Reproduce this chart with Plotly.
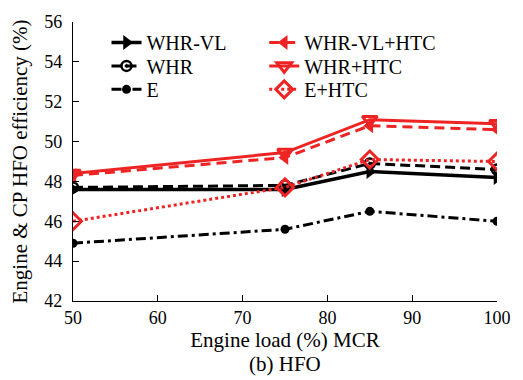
import plotly.graph_objects as go

loads = [50, 75, 85, 100]
whr_vl = [47.6, 47.6, 48.5, 48.2]
whr = [47.7, 47.8, 48.9, 48.6]
e = [44.9, 45.6, 46.5, 46.0]
whr_vl_htc = [48.3, 49.2, 50.8, 50.6]
whr_htc = [48.4, 49.45, 51.1, 50.9]
e_htc = [46.0, 47.7, 49.1, 49.0]

names = ["WHR-VL", "WHR", "E", "WHR-VL+HTC", "WHR+HTC", "E+HTC"]
RED = "#ee2424"
BLK = "#000000"
FONT = "Liberation Serif"

series = [
    (names[0], whr_vl, BLK, "solid", 3.5, dict(symbol="triangle-right", size=13, color=BLK)),
    (names[1], whr, BLK, "10px,5px", 3, dict(symbol="circle-open-dot", size=10, color=BLK, line=dict(width=2.5, color=BLK))),
    (names[2], e, BLK, "10px,4px,3px,4px", 3, dict(symbol="circle", size=9, color=BLK)),
    (names[3], whr_vl_htc, RED, "10px,6px", 3, dict(symbol="triangle-left", size=13, color=RED)),
    (names[4], whr_htc, RED, "solid", 3, dict(symbol="triangle-down-open", size=13, color=RED, line=dict(width=3, color=RED))),
    (names[5], e_htc, RED, "3px,3px", 3, dict(symbol="diamond-open", size=13, color=RED, line=dict(width=3, color=RED))),
]

fig = go.Figure()
legend_ids = ["legend", "legend2", "legend3", "legend4", "legend5", "legend6"]
for i, (nm, ys, col, dash, w, mk) in enumerate(series):
    fig.add_trace(go.Scatter(x=loads, y=ys, name=nm, mode="lines+markers",
                             line=dict(color=col, dash=dash, width=w),
                             marker=mk, legend=legend_ids[i]))

# legend placement (two columns, three rows)
row_y = [0.9266, 0.8427, 0.7587]
col_x = [0.079, 0.451]
leg_layout = {}
for i, lid in enumerate(legend_ids):
    c = i // 3
    r = i % 3
    leg_layout[lid] = dict(x=col_x[c], y=row_y[r], xanchor="left", yanchor="middle",
                           bgcolor="rgba(0,0,0,0)", borderwidth=0,
                           font=dict(family=FONT, size=20, color="black"))

fig.update_layout(
    width=523, height=380,
    margin=dict(l=73, r=20, t=15, b=79),
    paper_bgcolor="white", plot_bgcolor="white",
    font=dict(family=FONT, size=18, color="black"),
    showlegend=True,
    **leg_layout,
    annotations=[dict(text="(b) HFO", x=0.5, y=-0.227, xref="paper", yref="paper",
                      xanchor="center", yanchor="middle", showarrow=False,
                      font=dict(family=FONT, size=21, color="black"))],
)

fig.update_xaxes(range=[50, 100], dtick=10, tick0=50, showgrid=False, zeroline=False,
                 showline=True, linecolor="black", linewidth=1.2,
                 ticks="inside", ticklen=6, tickcolor="black",
                 tickfont=dict(family=FONT, size=18),
                 title=dict(text="Engine load (%) MCR", font=dict(family=FONT, size=21), standoff=4))
fig.update_yaxes(range=[42, 56], dtick=2, tick0=42, showgrid=False, zeroline=False,
                 showline=True, linecolor="black", linewidth=1.2,
                 ticks="inside", ticklen=6, tickcolor="black", ticklabelstandoff=6,
                 tickfont=dict(family=FONT, size=18),
                 title=dict(text="Engine & CP HFO efficiency (%)", font=dict(family=FONT, size=21), standoff=10))

fig.write_html("out.html")
